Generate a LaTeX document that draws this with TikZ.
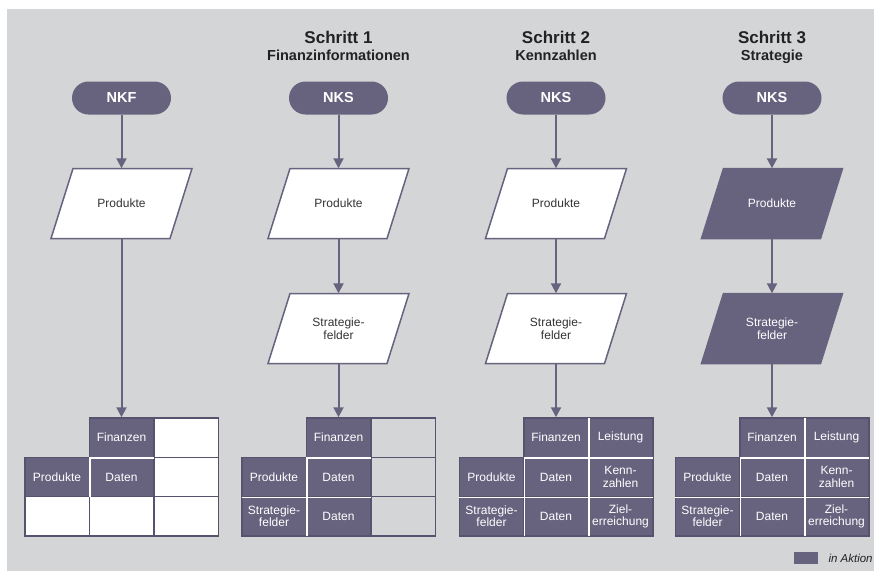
\documentclass[tikz,border=0pt]{standalone}
\usepackage{fontspec}
\setmainfont{Liberation Sans}
\usetikzlibrary{arrows.meta}
\definecolor{bg}{HTML}{D4D5D7}
\definecolor{dk}{HTML}{67637F}
\definecolor{edgec}{HTML}{57536F}
\definecolor{txt}{HTML}{222222}
\definecolor{ptxt}{HTML}{333333}
\tikzset{
  pill/.style={fill=dk, rounded corners=16.5pt, minimum width=99pt, minimum height=33pt,
    text=white, font=\fontsize{14.5}{16}\selectfont\bfseries, inner sep=0pt},
  paratext/.style={minimum width=119pt, minimum height=70pt, inner sep=0pt, align=center,
    font=\fontsize{12}{13}\selectfont},
  conn/.style={draw=dk, line width=2pt, -{Triangle[length=10pt,width=10pt]}},
  cellbox/.style={minimum width=64.5pt, minimum height=39.3pt, inner sep=0pt, align=center,
    font=\fontsize{12}{12.5}\selectfont, draw=edgec, line width=1.5pt},
  cellon/.style={cellbox, fill=dk, text=white},
  celloff/.style={cellbox, fill=white},
  cellgr/.style={cellbox, fill=bg},
  sep/.style={draw=white, line width=1.5pt, shorten <=0.75pt, shorten >=0.75pt},
  titleA/.style={anchor=base, text=txt, font=\fontsize{17}{19}\selectfont\bfseries},
  titleB/.style={anchor=base, text=txt, font=\fontsize{14.5}{16}\selectfont\bfseries}
}
% #1 x, #2 y, #3 fill
\newcommand{\paraShape}[3]{%
  \filldraw[fill=#3, draw=dk, line width=1.5pt] ({#1-48.5},{#2-35}) -- ({#1+70.5},{#2-35})
    -- ({#1+48.5},{#2+35}) -- ({#1-70.5},{#2+35}) -- cycle;}
\begin{document}
\begin{tikzpicture}[x=1pt,y=-1pt]
\useasboundingbox (0,0) rectangle (878,573);
\fill[bg] (7,9) rectangle (874,571);

% titles
\node[titleA] (h1) at (338.5,43) {Schritt 1};
\node[titleB] (s1) at (338.5,60) {Finanzinformationen};
\node[titleA] (h2) at (556,43) {Schritt 2};
\node[titleB] (s2) at (556,60) {Kennzahlen};
\node[titleA] (h3) at (772,43) {Schritt 3};
\node[titleB] (s3) at (772,60) {Strategie};

% pills
\node[pill] (p1) at (121.5,98) {NKF};
\node[pill] (p2) at (338.5,98) {NKS};
\node[pill] (p3) at (556,98) {NKS};
\node[pill] (p4) at (772,98) {NKS};

% parallelograms
\paraShape{121.5}{203.5}{white}
\node[paratext, text=ptxt] (q1) at (121.5,203.5) {Produkte};
\paraShape{338.5}{203.5}{white}
\node[paratext, text=ptxt] (q2) at (338.5,203.5) {Produkte};
\paraShape{338.5}{328.5}{white}
\node[paratext, text=ptxt] (r2) at (338.5,328.5) {Strategie-\\felder};
\paraShape{556}{203.5}{white}
\node[paratext, text=ptxt] (q3) at (556,203.5) {Produkte};
\paraShape{556}{328.5}{white}
\node[paratext, text=ptxt] (r3) at (556,328.5) {Strategie-\\felder};
\paraShape{772}{203.5}{dk}
\node[paratext, text=white] (q4) at (772,203.5) {Produkte};
\paraShape{772}{328.5}{dk}
\node[paratext, text=white] (r4) at (772,328.5) {Strategie-\\felder};

% table 1
\node[cellon]  (a12) at (121.5,437.65) {Finanzen};
\node[celloff] (a13) at (186,437.65) {};
\node[cellon]  (a21) at (57,476.95) {Produkte};
\node[cellon]  (a22) at (121.5,476.95) {Daten};
\node[celloff] (a23) at (186,476.95) {};
\node[celloff] (a31) at (57,516.25) {};
\node[celloff] (a32) at (121.5,516.25) {};
\node[celloff] (a33) at (186,516.25) {};
\draw[sep] (a21.north east) -- (a21.south east);
\draw[sep] (a12.south west) -- (a12.south east);

% table 2
\node[cellon] (b12) at (338.5,437.65) {Finanzen};
\node[cellgr] (b13) at (403,437.65) {};
\node[cellon] (b21) at (274,476.95) {Produkte};
\node[cellon] (b22) at (338.5,476.95) {Daten};
\node[cellgr] (b23) at (403,476.95) {};
\node[cellon] (b31) at (274,516.25) {Strategie-\\felder};
\node[cellon] (b32) at (338.5,516.25) {Daten};
\node[cellgr] (b33) at (403,516.25) {};
\draw[sep] (b21.north east) -- (b31.south east);
\draw[sep] (b12.south west) -- (b12.south east);
\draw[sep] (b21.south west) -- (b22.south east);

% table 3
\node[cellon] (c12) at (556,437.65) {Finanzen};
\node[cellon] (c13) at (620.5,437.65) {Leistung};
\node[cellon] (c21) at (491.5,476.95) {Produkte};
\node[cellon] (c22) at (556,476.95) {Daten};
\node[cellon] (c23) at (620.5,476.95) {Kenn-\\zahlen};
\node[cellon] (c31) at (491.5,516.25) {Strategie-\\felder};
\node[cellon] (c32) at (556,516.25) {Daten};
\node[cellon] (c33) at (620.5,516.25) {Ziel-\\erreichung};
\draw[sep] (c21.north east) -- (c31.south east);
\draw[sep] (c12.north east) -- (c32.south east);
\draw[sep] (c12.south west) -- (c13.south east);
\draw[sep] (c21.south west) -- (c23.south east);

% table 4
\node[cellon] (d12) at (772,437.65) {Finanzen};
\node[cellon] (d13) at (836.5,437.65) {Leistung};
\node[cellon] (d21) at (707.5,476.95) {Produkte};
\node[cellon] (d22) at (772,476.95) {Daten};
\node[cellon] (d23) at (836.5,476.95) {Kenn-\\zahlen};
\node[cellon] (d31) at (707.5,516.25) {Strategie-\\felder};
\node[cellon] (d32) at (772,516.25) {Daten};
\node[cellon] (d33) at (836.5,516.25) {Ziel-\\erreichung};
\draw[sep] (d21.north east) -- (d31.south east);
\draw[sep] (d12.north east) -- (d32.south east);
\draw[sep] (d12.south west) -- (d13.south east);
\draw[sep] (d21.south west) -- (d23.south east);

% connectors
\draw[conn] (p1.south) -- (q1.north);
\draw[conn] (q1.south) -- (a12.north);
\draw[conn] (p2.south) -- (q2.north);
\draw[conn] (q2.south) -- (r2.north);
\draw[conn] (r2.south) -- (b12.north);
\draw[conn] (p3.south) -- (q3.north);
\draw[conn] (q3.south) -- (r3.north);
\draw[conn] (r3.south) -- (c12.north);
\draw[conn] (p4.south) -- (q4.north);
\draw[conn] (q4.south) -- (r4.north);
\draw[conn] (r4.south) -- (d12.north);

% legend
\fill[dk] (794,552) rectangle (818,563.5) node[coordinate] (lg) {};
\node[anchor=base west, font=\fontsize{11.5}{13}\selectfont\itshape, text=txt] (lt) at (825,562) {in Aktion};
\end{tikzpicture}
\end{document}
